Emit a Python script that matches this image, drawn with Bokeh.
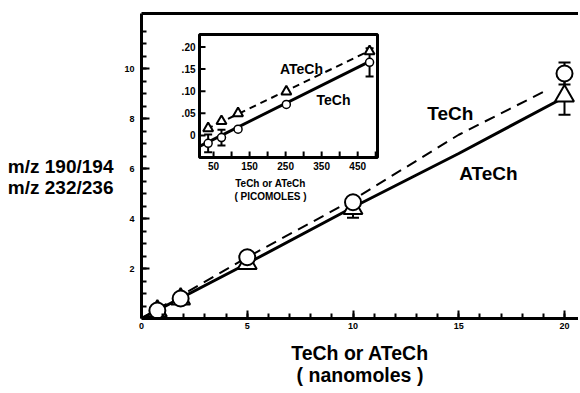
from bokeh.plotting import figure
from bokeh.models import FixedTicker, LinearAxis, Label, Range1d
from bokeh.embed import file_html
from bokeh.resources import INLINE
from bokeh.core.properties import value

# ---- main chart data (nanomoles) ----
nano_x = [0.75, 1.85, 5, 10, 20]
tech_y = [0.32, 0.80, 2.45, 4.65, 9.80]        # circles
atech_y = [0.30, 0.78, 2.20, 4.40, 8.90]       # triangles
tech_err = [0, 0, 0, 0, 0.44]
atech_err = [0, 0, 0, 0.37, 0.75]
solid_fit_x = [0, 5, 10, 15, 20]
solid_fit_y = [0, 2.2, 4.45, 6.6, 8.85]
dash_fit_x = [0, 5, 10, 15, 19.2]
dash_fit_y = [0, 2.45, 4.75, 7.35, 9.15]
x_ticks = [0, 5, 10, 15, 20]
y_ticks = [2, 4, 6, 8, 10]

# ---- inset data (picomoles) ----
pico_x = [35, 72, 118, 252, 483]
pico_tech_y = [-0.018, -0.005, 0.014, 0.070, 0.165]   # circles
pico_atech_y = [0.016, 0.032, 0.050, 0.099, 0.190]    # triangles
pico_tech_err = [0.020, 0.018, 0, 0, 0.032]
inset_solid_x = [11, 485]
inset_solid_y = [-0.025, 0.168]
inset_dash_x = [30, 490]
inset_dash_y = [0.014, 0.194]
inset_x_ticks = [50, 150, 250, 350, 450]
inset_x_minor = [100, 200, 300, 400, 500]
inset_y_ticks = [0, 0.05, 0.10, 0.15, 0.20]
inset_y_labels = ["0", ".05", ".10", ".15", ".20"]
inset_x_range = (11, 505)
inset_y_range = (-0.05, 0.228)

FONT = "Liberation Sans"
INK = "black"

# ---- layout constants (pixels) ----
W, H = 578, 390
BL, BR, BT, BB = 141, 0, 13, 72
FW, FH = W - BL - BR, H - BT - BB
PX_PER_X = 21.15
# inset box inside main frame (px from frame left / top)
IB_L, IB_R, IB_T, IB_B = 58, 236, 21, 144

ix0, ix1 = inset_x_range
iy0, iy1 = inset_y_range
sx = (ix1 - ix0) / (IB_R - IB_L)      # inset data units per px
sy = (iy1 - iy0) / (IB_B - IB_T)

p = figure(width=W, height=H, x_range=(0, FW / PX_PER_X), y_range=(0, 12.2),
           output_backend="svg", toolbar_location=None,
           min_border_left=BL, min_border_right=BR, min_border_top=BT, min_border_bottom=BB)
p.extra_x_ranges = {"ix": Range1d(ix0 - IB_L * sx, ix1 + (FW - IB_R) * sx)}
p.extra_y_ranges = {"iy": Range1d(iy0 - (FH - IB_B) * sy, iy1 + IB_T * sy)}
p.grid.visible = False
p.outline_line_color = None
p.background_fill_color = "white"
p.border_fill_color = "white"

for ax in (p.xaxis[0], p.yaxis[0]):
    ax.axis_line_width = 3
    ax.axis_line_color = INK
    ax.major_tick_line_color = INK
    ax.minor_tick_line_color = INK
    ax.major_tick_in = 8
    ax.major_tick_out = 0
    ax.minor_tick_in = 5
    ax.minor_tick_out = 0
    ax.major_tick_line_width = 2
    ax.minor_tick_line_width = 2
    ax.major_label_text_font = FONT
    ax.major_label_text_font_style = "bold"
    ax.major_label_text_font_size = "9px"
    ax.major_label_text_color = INK
p.xaxis[0].major_label_standoff = 4
p.yaxis[0].major_label_standoff = 7

p.xaxis[0].ticker = FixedTicker(ticks=x_ticks, minor_ticks=list(range(1, 21)))
p.yaxis[0].ticker = FixedTicker(ticks=y_ticks, minor_ticks=[i * 0.5 for i in range(1, 24)])
p.xaxis[0].axis_label = "TeCh or ATeCh\n( nanomoles )"
p.xaxis[0].axis_label_standoff = 10
p.xaxis[0].axis_label_text_font_size = "19.5px"
p.yaxis[0].axis_label = "\nm/z 190/194\nm/z 232/236"
p.yaxis[0].axis_label_orientation = "horizontal"
p.yaxis[0].axis_label_standoff = 8
p.yaxis[0].axis_label_text_font_size = "19px"
for ax in (p.xaxis[0], p.yaxis[0]):
    ax.axis_label_text_font = FONT
    ax.axis_label_text_font_style = "bold"
    ax.axis_label_text_line_height = 1.0
    ax.axis_label_text_color = INK

top_ax = LinearAxis(ticker=FixedTicker(ticks=[]), axis_line_width=3, axis_line_color=INK,
                    major_label_text_font_size="0px", major_tick_in=0, major_tick_out=0,
                    minor_tick_in=0, minor_tick_out=0, major_label_standoff=0)
p.add_layout(top_ax, "above")

# ---- main series ----
p.line(solid_fit_x, solid_fit_y, line_color=INK, line_width=3)
p.line(dash_fit_x, dash_fit_y, line_color=INK, line_width=2, line_dash="11 7")

for ys, errs in ((tech_y, tech_err), (atech_y, atech_err)):
    bx = [x for x, e in zip(nano_x, errs) if e > 0]
    lo = [y - e for y, e in zip(ys, errs) if e > 0]
    hi = [y + e for y, e in zip(ys, errs) if e > 0]
    p.segment(bx, lo, bx, hi, line_color=INK, line_width=2)
    p.scatter(bx + bx, lo + hi, marker="dash", size=12, line_color=INK, line_width=2)

p.scatter(nano_x, atech_y, marker="triangle", size=19, fill_color="white",
          line_color=INK, line_width=2)
p.scatter(nano_x, tech_y, marker="circle", size=16, fill_color="white",
          line_color=INK, line_width=2)

p.add_layout(Label(x=14.6, y=8.2, text="TeCh", text_align="center", text_baseline="middle",
                   text_font=FONT, text_font_style="bold", text_font_size="19px",
                   text_color=INK))
p.add_layout(Label(x=16.4, y=5.8, text="ATeCh", text_align="center", text_baseline="middle",
                   text_font=FONT, text_font_style="bold", text_font_size="19px",
                   text_color=INK))

# ---- inset (drawn on extra ranges) ----
R = dict(x_range_name="ix", y_range_name="iy")
p.quad(left=[ix0], right=[ix1], bottom=[iy0], top=[iy1], fill_color="white",
       line_color=INK, line_width=3, **R)
TICK = 6
p.segment([ix0] * len(inset_y_ticks), inset_y_ticks,
          [ix0 + TICK * sx] * len(inset_y_ticks), inset_y_ticks,
          line_color=INK, line_width=2, **R)
allx = inset_x_ticks + inset_x_minor
p.segment(allx, [iy0] * len(allx), allx, [iy0 + TICK * sy] * len(allx),
          line_color=INK, line_width=2, **R)
p.text(x=[ix0] * len(inset_y_ticks), y=inset_y_ticks, text=inset_y_labels,
       x_offset=-4, text_align="right", text_baseline="middle", text_color=INK,
       text_font=value(FONT), text_font_style="bold", text_font_size="10px", **R)
p.text(x=inset_x_ticks, y=[iy0] * len(inset_x_ticks), text=[str(t) for t in inset_x_ticks],
       y_offset=4, text_align="center", text_baseline="top", text_color=INK,
       text_font=value(FONT), text_font_style="bold", text_font_size="10px", **R)
p.text(x=[ix0 + 71 * sx], y=[iy0], text=["TeCh or ATeCh\n( PICOMOLES )"],
       y_offset=20, text_align="center", text_baseline="top", text_line_height=1.25,
       text_color=INK, text_font=value(FONT), text_font_style="bold",
       text_font_size="10px", **R)

p.line(inset_solid_x, inset_solid_y, line_color=INK, line_width=3, **R)
p.line(inset_dash_x, inset_dash_y, line_color=INK, line_width=2, line_dash="7 5", **R)

ibx = [x for x, e in zip(pico_x, pico_tech_err) if e > 0]
ilo = [y - e for y, e in zip(pico_tech_y, pico_tech_err) if e > 0]
ihi = [y + e for y, e in zip(pico_tech_y, pico_tech_err) if e > 0]
p.segment(ibx, ilo, ibx, ihi, line_color=INK, line_width=2, **R)
p.scatter(ibx + ibx, ilo + ihi, marker="dash", size=8, line_color=INK, line_width=2, **R)
p.scatter(pico_x, pico_atech_y, marker="triangle", size=10, fill_color="white",
          line_color=INK, line_width=2, **R)
p.scatter(pico_x, pico_tech_y, marker="circle", size=8, fill_color="white",
          line_color=INK, line_width=1.5, **R)

p.text(x=[294], y=[0.151], text=["ATeCh"], text_align="center", text_baseline="middle",
       text_color=INK, text_font=value(FONT), text_font_style="bold",
       text_font_size="14px", **R)
p.text(x=[383], y=[0.079], text=["TeCh"], text_align="center", text_baseline="middle",
       text_color=INK, text_font=value(FONT), text_font_style="bold",
       text_font_size="14px", **R)

open("out.html", "w").write(file_html(p, INLINE))
